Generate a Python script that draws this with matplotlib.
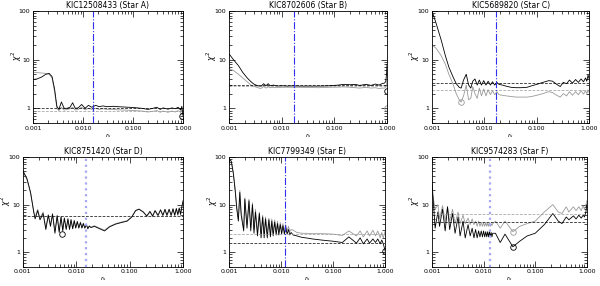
import matplotlib
matplotlib.use('Agg')
import matplotlib.pyplot as plt
from matplotlib.ticker import FixedLocator, FixedFormatter, LogLocator, NullFormatter

titles = ['KIC12508433 (Star A)', 'KIC8702606 (Star B)', 'KIC5689820 (Star C)',
          'KIC8751420 (Star D)', 'KIC7799349 (Star E)', 'KIC9574283 (Star F)']

# Star A
a_x = [0.001, 0.0012, 0.0015, 0.0018, 0.0021, 0.0024, 0.0027, 0.003, 0.0033, 0.0037, 0.0042,
       0.0048, 0.0055, 0.0062, 0.007, 0.008, 0.0094, 0.011, 0.0128, 0.015, 0.018, 0.021, 0.025,
       0.03, 0.04, 0.05, 0.07, 0.1, 0.15, 0.2, 0.25, 0.3, 0.35, 0.4, 0.5, 0.6, 0.7, 0.8, 0.9,
       0.95, 1.0]
a_black = [3.9, 4.0, 4.4, 5.0, 5.2, 4.5, 2.5, 1.1, 0.95, 1.35, 1.0, 1.0, 1.05, 1.3, 1.0, 1.02,
           1.2, 1.0, 1.15, 1.05, 1.15, 1.08, 1.12, 1.08, 1.1, 1.08, 1.06, 1.04, 1.0, 0.95, 1.0,
           1.05, 0.95, 1.02, 0.96, 1.02, 0.98, 1.05, 0.92, 1.1, 0.7]
a_gray = [5.5, 5.4, 5.3, 5.2, 5.0, 4.2, 2.2, 1.0, 0.9, 1.05, 0.92, 0.95, 0.98, 1.05, 0.92, 0.95,
          1.05, 0.93, 1.0, 0.95, 1.0, 0.95, 0.98, 0.95, 0.95, 0.93, 0.92, 0.9, 0.88, 0.84, 0.87,
          0.9, 0.83, 0.88, 0.83, 0.88, 0.84, 0.9, 0.82, 0.95, 0.75]
a_level = [1.02, 0.9]
a_vline = 0.0155
a_circ = [(0.97, 0.68, 'k')]

# Star B
b_x = [0.001, 0.0012, 0.0015, 0.0018, 0.0022, 0.0026, 0.003, 0.0035, 0.004, 0.0045, 0.005,
       0.0055, 0.006, 0.007, 0.008, 0.01, 0.013, 0.017, 0.02, 0.03, 0.05, 0.08, 0.12, 0.15, 0.2,
       0.25, 0.3, 0.4, 0.5, 0.6, 0.7, 0.8, 0.9, 0.95, 0.98, 1.0]
b_black = [13, 10, 7.5, 5.5, 4.2, 3.5, 3.1, 2.9, 2.8, 3.2, 2.9, 3.2, 2.9, 3.0, 2.85, 2.9, 2.85,
           2.9, 2.85, 2.85, 2.85, 2.9, 3.0, 3.1, 3.05, 3.1, 2.95, 3.1, 2.95, 3.15, 3.0, 3.2, 3.3,
           3.6, 5.0, 8.0]
b_gray = [6.5, 6.0, 5.0, 4.2, 3.5, 3.0, 2.8, 2.65, 2.55, 2.8, 2.6, 2.75, 2.65, 2.7, 2.65, 2.7,
          2.7, 2.7, 2.7, 2.68, 2.65, 2.7, 2.72, 2.75, 2.7, 2.65, 2.6, 2.7, 2.6, 2.65, 2.55, 2.6,
          2.6, 2.7, 3.0, 4.0]
b_level = [3.0, 2.85]
b_vline = 0.017
b_circ = [(0.98, 2.25, 'k'), (0.98, 1.0, '0.6')]

# Star C
c_x = [0.001, 0.0012, 0.0015, 0.0018, 0.0021, 0.0025, 0.0029, 0.0033, 0.0036, 0.004, 0.0045,
       0.005, 0.0055, 0.006, 0.0066, 0.0073, 0.008, 0.0088, 0.0097, 0.0107, 0.0118, 0.013,
       0.0143, 0.0157, 0.0173, 0.019, 0.022, 0.026, 0.032, 0.04, 0.05, 0.065, 0.08, 0.1, 0.13,
       0.17, 0.2, 0.24, 0.28, 0.32, 0.37, 0.42, 0.48, 0.55, 0.62, 0.7, 0.78, 0.85, 0.9, 0.95, 1.0]
c_black = [100, 55, 25, 12, 7, 4.5, 3.2, 2.7, 2.6, 3.8, 5.0, 3.0, 2.6, 3.6, 4.0, 3.0, 3.8, 3.0,
           3.7, 3.0, 3.6, 3.0, 3.5, 3.0, 3.4, 3.1, 3.0, 2.85, 2.7, 2.65, 2.65, 2.7, 2.9, 3.1, 3.4,
           3.7, 3.6, 3.1, 2.8, 3.4, 3.2, 3.8, 3.3, 3.9, 3.4, 4.0, 3.5, 4.2, 3.6, 4.8, 4.0]
c_gray = [20, 17, 12, 8, 5, 3.2, 2.0, 1.5, 1.35, 1.8, 3.0, 1.5, 1.6, 2.8, 2.0, 1.6, 2.6, 1.8,
          2.5, 1.8, 2.4, 1.9, 2.3, 1.9, 2.2, 1.9, 1.85, 1.8, 1.75, 1.7, 1.7, 1.7, 1.75, 1.85, 2.0,
          2.2, 2.1, 1.85, 1.7, 2.0, 1.8, 2.2, 1.85, 2.2, 1.9, 2.3, 1.95, 2.3, 2.0, 2.4, 2.1]
c_level = [3.3, 2.4]
c_vline = 0.017
c_circ = [(0.0036, 1.35, '0.6')]

# Star D
d_x = [0.001, 0.0012, 0.0014, 0.0016, 0.0017, 0.0019, 0.0021, 0.0024, 0.0027, 0.003, 0.0033,
       0.0036, 0.004, 0.0044, 0.0048, 0.0052, 0.0056, 0.006, 0.0065, 0.007, 0.0075, 0.008,
       0.0086, 0.0092, 0.0098, 0.0105, 0.0112, 0.012, 0.0128, 0.0136, 0.0145, 0.0155, 0.0165,
       0.0175, 0.019, 0.022, 0.026, 0.034, 0.042, 0.055, 0.07, 0.09, 0.11, 0.13, 0.15, 0.18,
       0.21, 0.24, 0.27, 0.3, 0.34, 0.38, 0.42, 0.46, 0.5, 0.55, 0.6, 0.65, 0.7, 0.75, 0.8,
       0.85, 0.9, 0.95, 1.0]
d_black = [52, 35, 18, 7, 5, 7.5, 4.8, 6.5, 3.0, 6.0, 3.5, 6.3, 2.5, 5.8, 2.6, 5.5, 2.8, 5.2,
           3.0, 5.0, 3.0, 4.8, 3.1, 4.6, 3.2, 4.4, 3.2, 4.2, 3.2, 4.0, 3.2, 3.8, 3.1, 3.5, 3.3,
           3.5, 3.2, 2.8, 3.4, 3.9, 4.2, 4.5, 5.5, 7.5, 8.0, 7.0, 5.8, 7.2, 5.8, 7.5, 6.0, 7.8,
           6.0, 8.0, 6.0, 8.0, 6.0, 8.2, 6.0, 8.3, 6.2, 8.5, 6.3, 9.0, 12]
d_gray = [50, 33, 17, 7.5, 5.5, 8.0, 5.2, 7.0, 3.3, 6.2, 3.8, 6.5, 2.8, 6.0, 2.8, 5.6, 3.0, 5.3,
          3.1, 5.1, 3.1, 4.9, 3.2, 4.7, 3.3, 4.5, 3.3, 4.3, 3.3, 4.1, 3.3, 3.9, 3.2, 3.6, 3.4,
          3.6, 3.3, 2.9, 3.5, 4.0, 4.3, 4.6, 5.6, 7.6, 8.1, 7.1, 5.6, 7.0, 5.6, 7.3, 5.7, 7.6,
          5.7, 7.8, 5.7, 7.8, 5.7, 8.0, 5.8, 8.1, 5.9, 8.3, 6.0, 8.8, 11]
d_level = [5.9]
d_vline = 0.0155
d_circ = [(0.0055, 2.45, 'k')]

# Star E
e_x = [0.001, 0.0011, 0.0012, 0.0013, 0.0014, 0.0015, 0.0016, 0.0017, 0.0019, 0.002, 0.0022,
       0.0024, 0.0026, 0.0028, 0.003, 0.0032, 0.0035, 0.0038, 0.0041, 0.0044, 0.0047, 0.005,
       0.0054, 0.0058, 0.0062, 0.0066, 0.007, 0.0075, 0.008, 0.0085, 0.009, 0.0096, 0.0102,
       0.0108, 0.0115, 0.0122, 0.013, 0.0138, 0.0146, 0.0155, 0.017, 0.02, 0.025, 0.03, 0.04,
       0.06, 0.1, 0.15, 0.2, 0.28, 0.33, 0.38, 0.45, 0.5, 0.58, 0.65, 0.72, 0.8, 0.86, 0.92,
       0.97, 1.0]
e_black = [95, 80, 45, 20, 8, 4.5, 18, 6, 2.8, 13, 3.2, 12, 2.8, 10, 2.5, 7, 2.2, 6.5, 2.0,
           5.5, 2.0, 5.0, 2.0, 4.8, 2.1, 4.5, 2.2, 4.3, 2.3, 4.0, 2.3, 3.8, 2.4, 3.6, 2.4, 3.3,
           2.4, 3.0, 2.3, 2.6, 2.3, 2.2, 2.05, 2.0, 1.9, 1.8, 1.7, 1.6, 2.1, 1.55, 2.0, 1.5, 1.9,
           1.55, 1.9, 1.6, 1.9, 1.5, 1.8, 1.5, 1.2, 1.05]
e_gray = [95, 80, 48, 22, 9, 5.0, 20, 7, 3.2, 14, 3.8, 13, 3.3, 11, 3.0, 8, 2.7, 7, 2.5, 6.0,
          2.5, 5.5, 2.5, 5.2, 2.6, 5.0, 2.6, 4.8, 2.7, 4.5, 2.7, 4.2, 2.8, 4.0, 2.8, 3.8, 2.8,
          3.5, 2.7, 3.0, 2.9, 2.6, 2.5, 2.5, 2.45, 2.45, 2.4, 2.25, 2.8, 2.2, 2.8, 2.1, 2.8, 2.2,
          2.9, 2.2, 2.8, 2.0, 2.6, 2.0, 2.5, 2.8]
e_level = [1.6, 2.45]
e_vline = 0.0118
e_circ = [(0.97, 1.05, 'k')]

# Star F
f_x = [0.001, 0.00115, 0.0013, 0.0014, 0.0016, 0.0018, 0.002, 0.0022, 0.0025, 0.0028, 0.0032,
       0.0035, 0.004, 0.0044, 0.005, 0.0055, 0.006, 0.0065, 0.007, 0.0075, 0.008, 0.0085, 0.009,
       0.0095, 0.01, 0.0105, 0.011, 0.0115, 0.012, 0.0125, 0.013, 0.0135, 0.014, 0.0145, 0.015,
       0.017, 0.021, 0.026, 0.037, 0.05, 0.07, 0.1, 0.15, 0.22, 0.28, 0.33, 0.4, 0.45, 0.55,
       0.62, 0.7, 0.78, 0.85, 0.9, 0.96, 1.0]
f_black = [30, 3.2, 7, 3.5, 8, 2.8, 9, 3.0, 6.5, 2.5, 5.5, 2.2, 4.5, 2.0, 3.8, 2.2, 3.2, 2.0,
           3.0, 2.0, 2.8, 2.1, 2.8, 2.1, 2.8, 2.1, 2.7, 2.1, 2.7, 2.1, 2.7, 2.1, 2.6, 2.1, 2.5,
           2.5, 1.6, 2.4, 1.3, 1.7, 2.2, 2.5, 3.8, 6.5, 4.5, 4.0, 5.5, 4.8, 5.8, 5.0, 6.0, 5.2,
           6.0, 5.5, 7.0, 10]
f_gray = [20, 8, 10, 5, 9.5, 4.5, 9, 4.5, 8, 4, 7, 4, 6, 4, 5.2, 3.8, 5, 3.8, 4.5, 3.5, 4.5,
          3.5, 4.2, 3.5, 4.2, 3.5, 4.2, 3.5, 4.1, 3.5, 4.1, 3.5, 4.0, 3.6, 4.0, 4.5, 3.2, 4.5,
          2.7, 3.5, 4.0, 4.5, 7, 10, 7, 6.5, 9, 7, 9, 7.5, 9, 7.5, 9.5, 8, 10, 12]
f_level = [4.3, 6.5]
f_vline = 0.0133
f_circ = [(0.037, 1.3, 'k'), (0.037, 2.7, '0.6')]

panels = [
    (a_x, a_black, a_gray, a_level, a_vline, a_circ),
    (b_x, b_black, b_gray, b_level, b_vline, b_circ),
    (c_x, c_black, c_gray, c_level, c_vline, c_circ),
    (d_x, d_black, d_gray, d_level, d_vline, d_circ),
    (e_x, e_black, e_gray, e_level, e_vline, e_circ),
    (f_x, f_black, f_gray, f_level, f_vline, f_circ),
]

# axes rectangles in figure fraction (left, bottom, width, height)
rects = [
    (0.055, 0.570, 0.250, 0.392),
    (0.382, 0.570, 0.263, 0.392),
    (0.720, 0.570, 0.262, 0.392),
    (0.038, 0.068, 0.267, 0.383),
    (0.382, 0.068, 0.260, 0.383),
    (0.720, 0.068, 0.258, 0.383),
]

vcolors = ['#3030ee', '#3030ee', '#3030ee', '#a8a8f0', '#3030ee', '#a8a8f0']
vstyles = ['-.', '-.', '-.', ':', '-.', ':']
vwidths = [0.8, 0.8, 0.8, 1.6, 0.8, 1.6]

fig = plt.figure(figsize=(6, 2.86), dpi=100)

for i, (x, yb, yg, levels, vx, circs) in enumerate(panels):
    ax = fig.add_axes(rects[i])
    ax.set_xscale('log')
    ax.set_yscale('log')
    ax.plot(x, yg, color='0.6', lw=0.6)
    ax.plot(x, yb, color='k', lw=0.6)
    ax.axhline(levels[0], color='k', ls='--', lw=0.5, dashes=(4, 2))
    if len(levels) > 1:
        ax.axhline(levels[1], color='0.6', ls='--', lw=0.5, dashes=(4, 2))
    ax.axvline(vx, color=vcolors[i], ls=vstyles[i], lw=vwidths[i])
    for cx, cy, cc in circs:
        ax.plot(cx, cy, 'o', mfc='none', mec=cc, ms=4, mew=0.6)
    ax.set_xlim(0.001, 1.0)
    ax.set_ylim(0.5, 100)

    ax.xaxis.set_major_locator(FixedLocator([0.001, 0.01, 0.1, 1.0]))
    ax.xaxis.set_major_formatter(FixedFormatter(['0.001', '0.010', '0.100', '1.000']))
    ax.xaxis.set_minor_locator(LogLocator(base=10, subs=range(2, 10)))
    ax.xaxis.set_minor_formatter(NullFormatter())
    ax.yaxis.set_major_locator(FixedLocator([1, 10, 100]))
    ax.yaxis.set_major_formatter(FixedFormatter(['1', '10', '100']))
    ax.yaxis.set_minor_locator(LogLocator(base=10, subs=range(2, 10)))
    ax.yaxis.set_minor_formatter(NullFormatter())
    ax.tick_params(which='both', direction='in', top=True, right=True, labelsize=4.5,
                   width=0.5, pad=2)
    ax.tick_params(which='major', length=4)
    ax.tick_params(which='minor', length=2)
    for s in ax.spines.values():
        s.set_linewidth(0.6)

    ax.set_title(titles[i], fontsize=5.5, pad=2)
    ax.set_xlabel(r'$r_s$', fontsize=4.5, labelpad=0)
    ax.set_ylabel(r'$\chi^2$', fontsize=5.5)
    ax.yaxis.set_label_coords(-0.062, 0.6)

plt.savefig('out.png', dpi=100)
